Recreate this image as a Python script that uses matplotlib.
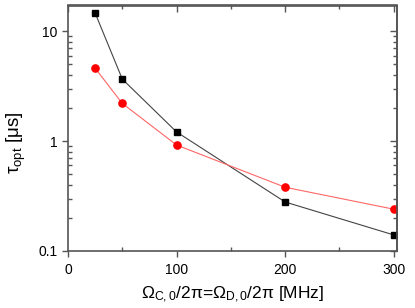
import matplotlib
matplotlib.use("Agg")
import matplotlib.pyplot as plt
from matplotlib.ticker import LogLocator, MultipleLocator, NullFormatter, FixedLocator

plt.rcParams['font.family'] = ['Liberation Sans', 'DejaVu Sans']
plt.rcParams['mathtext.fontset'] = 'custom'
plt.rcParams['mathtext.rm'] = 'Liberation Sans'
plt.rcParams['mathtext.it'] = 'Liberation Sans'

# data
omega = [25, 50, 100, 200, 300]
tau_black = [14.6, 3.66, 1.21, 0.279, 0.14]
tau_red = [4.6, 2.2, 0.92, 0.38, 0.24]

fig = plt.figure(figsize=(4.15, 3.08), dpi=100)
ax = fig.add_axes([68/415, 57/308, 329/415, 245.5/308])

ax.plot(omega, tau_black, color='#444444', lw=0.8, marker='s', ms=4.6,
        mfc='black', mec='black')
ax.plot(omega, tau_red, color='#ff6666', lw=0.8, marker='o', ms=5.2,
        mfc='red', mec='red')

ax.set_yscale('log')
ax.set_xlim(0, 303)
ax.set_ylim(0.1, 17.1)
ax.xaxis.set_major_locator(MultipleLocator(100))
ax.xaxis.set_minor_locator(MultipleLocator(50))
ax.yaxis.set_major_locator(FixedLocator([0.1, 1, 10]))
ax.yaxis.set_minor_locator(LogLocator(base=10, subs=range(2, 10)))
ax.yaxis.set_minor_formatter(NullFormatter())
ax.set_yticklabels(['0.1', '1', '10'])

ax.tick_params(which='major', direction='out', length=4, labelsize=10, width=1, color='#555555')
ax.tick_params(which='minor', direction='in', length=3, width=1, color='#555555')
ax.tick_params(axis='x', which='major', pad=5)

# top and right axes: ticks inside, no labels
top = ax.secondary_xaxis('top')
top.xaxis.set_major_locator(MultipleLocator(100))
top.xaxis.set_minor_locator(MultipleLocator(50))
top.tick_params(which='both', direction='in', labeltop=False, width=1, color='#555555')
top.tick_params(which='major', length=5)
top.tick_params(which='minor', length=3)
right = ax.secondary_yaxis('right')
right.yaxis.set_major_locator(FixedLocator([0.1, 1, 10]))
right.yaxis.set_minor_locator(LogLocator(base=10, subs=range(2, 10)))
right.tick_params(which='both', direction='in', labelright=False, width=1, color='#555555')
right.tick_params(which='major', length=5)
right.tick_params(which='minor', length=3)

for a in (ax, top, right):
    for s in a.spines.values():
        s.set_color('#555555')
        s.set_linewidth(1.2)

ax.set_xlabel(r'$\Omega_{\mathrm{C,0}}/2\pi$=$\Omega_{\mathrm{D,0}}/2\pi$ [MHz]', fontsize=12.5, labelpad=5)
ax.set_ylabel(r'$\tau_{\mathrm{opt}}$ [$\mu$s]', fontsize=13.5)
ax.yaxis.set_label_coords(-0.122, 0.44)

fig.savefig('out.png', dpi=100)
